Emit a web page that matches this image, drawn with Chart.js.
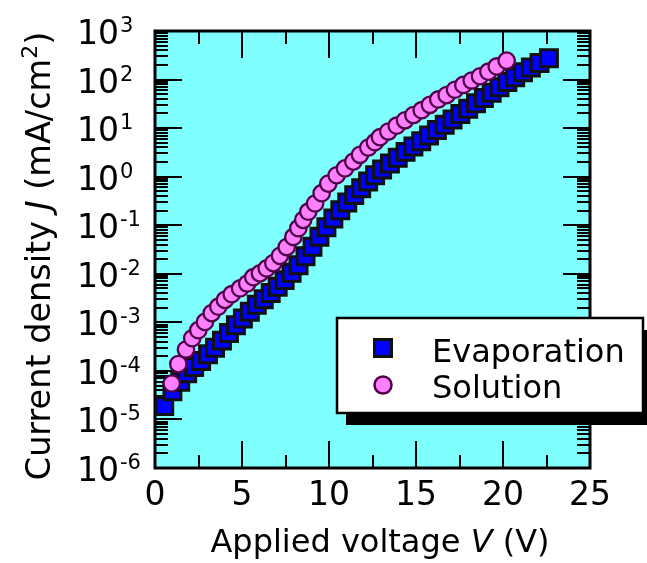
<!DOCTYPE html>
<html>
<head>
<meta charset="utf-8">
<script src="https://cdn.jsdelivr.net/npm/chart.js@4/dist/chart.umd.min.js"></script>
<style>
  html, body { margin: 0; padding: 0; background: #ffffff; }
  canvas { display: block; }
</style>
</head>
<body>
<canvas id="jv" width="647" height="563"></canvas>
<script>
// Current density vs. applied voltage for the two device types
const seriesNames = ['Evaporation', 'Solution'];

const evapV = [0.53, 1.00, 1.45, 1.85, 2.25, 2.65, 3.05, 3.45, 3.85, 4.25,
               4.65, 5.05, 5.45, 5.85, 6.25, 6.65, 7.05, 7.45, 7.85, 8.25,
               8.65, 9.05, 9.45, 9.85, 10.25, 10.65, 11.05, 11.45, 11.85, 12.25,
               12.65, 13.05, 13.50, 13.95, 14.40, 14.85, 15.30, 15.75, 16.20, 16.65,
               17.10, 17.55, 18.00, 18.45, 18.90, 19.35, 19.80, 20.25, 20.70, 21.15,
               21.60, 22.10, 22.64];
const evapJ = [1.9e-5, 3.8e-5, 6.0e-5, 8.9e-5, 1.2e-4, 1.6e-4, 2.2e-4, 3.0e-4, 4.2e-4, 6.0e-4,
               8.7e-4, 1.2e-3, 1.66e-3, 2.3e-3, 3.0e-3, 4.0e-3, 5.4e-3, 7.4e-3, 1.05e-2, 1.5e-2,
               2.3e-2, 3.6e-2, 5.8e-2, 9.1e-2, 0.138, 0.204, 0.295, 0.417, 0.575, 0.794,
               1.07, 1.41, 1.86, 2.45, 3.24, 4.17, 5.37, 7.08, 9.12, 11.7,
               15.1, 19.5, 25.1, 32.4, 41.7, 53.7, 69.2, 89.1, 112, 141,
               178, 219, 275];

const solV = [0.96, 1.34, 1.78, 2.14, 2.49, 2.87, 3.26, 3.64, 4.02, 4.41,
              4.89, 5.30, 5.65, 6.03, 6.42, 6.80, 7.18, 7.57, 7.95, 8.24,
              8.52, 8.81, 9.20, 9.58, 9.96, 10.44, 10.92, 11.40, 11.78, 12.26,
              12.64, 12.93, 13.41, 13.89, 14.37, 14.85, 15.33, 15.80, 16.28, 16.76,
              17.24, 17.72, 18.20, 18.68, 19.16, 19.64, 20.21];
const solJ = [5.5e-5, 1.38e-4, 2.75e-4, 4.7e-4, 6.9e-4, 1.02e-3, 1.55e-3, 2.1e-3, 2.9e-3, 3.8e-3,
              5.0e-3, 6.3e-3, 8.5e-3, 1.02e-2, 1.29e-2, 1.66e-2, 2.34e-2, 3.55e-2, 5.75e-2, 8.7e-2,
              0.129, 0.19, 0.28, 0.457, 0.72, 1.07, 1.48, 2.04, 2.82, 3.98,
              5.13, 6.5, 8.5, 11.2, 14.5, 18.6, 23.4, 30.2, 38.9, 47.9,
              61.7, 77.6, 95.5, 117, 145, 186, 245];

// Axis ticks
const xTickValues = [0, 5, 10, 15, 20, 25];
const xMinorValues = [2.5, 7.5, 12.5, 17.5, 22.5];
const yExponents = [-6, -5, -4, -3, -2, -1, 0, 1, 2, 3];

const FONT = '"DejaVu Sans", "Liberation Sans", sans-serif';
const PLOT_BG = '#80ffff';
const evapStyle = { fill: '#0000ff', stroke: '#111111' };
const solStyle = { fill: '#ff80ff', stroke: '#52004a' };

function toPoints(vs, js) { return vs.map((v, i) => ({ x: v, y: js[i] })); }

// Frame, inward ticks and plot background
const framePlugin = {
  id: 'jvFrame',
  beforeDatasetsDraw(chart) {
    const { ctx, chartArea: a, scales: { x, y } } = chart;
    ctx.save();
    ctx.fillStyle = PLOT_BG;
    ctx.fillRect(a.left, a.top, a.right - a.left, a.bottom - a.top);

    ctx.strokeStyle = '#000';
    ctx.lineWidth = 2;
    ctx.beginPath();
    yExponents.forEach(e => {
      for (let m = 1; m <= 9; m++) {
        const v = m * Math.pow(10, e);
        if (v > y.max * 1.0001) break;
        const py = Math.round(y.getPixelForValue(v));
        const len = m === 1 ? 27 : 13;
        ctx.moveTo(a.left, py); ctx.lineTo(a.left + len, py);
        ctx.moveTo(a.right, py); ctx.lineTo(a.right - len, py);
      }
    });
    xTickValues.forEach(v => {
      const px = Math.round(x.getPixelForValue(v));
      ctx.moveTo(px, a.bottom); ctx.lineTo(px, a.bottom - 27);
      ctx.moveTo(px, a.top); ctx.lineTo(px, a.top + 27);
    });
    xMinorValues.forEach(v => {
      const px = Math.round(x.getPixelForValue(v));
      ctx.moveTo(px, a.bottom); ctx.lineTo(px, a.bottom - 13);
      ctx.moveTo(px, a.top); ctx.lineTo(px, a.top + 13);
    });
    ctx.stroke();

    ctx.lineWidth = 3;
    ctx.strokeRect(a.left, a.top, a.right - a.left, a.bottom - a.top);
    ctx.restore();
  },
  afterDraw(chart) {
    const { ctx, chartArea: a, scales: { x, y } } = chart;
    ctx.save();
    ctx.fillStyle = '#000';

    // x tick labels
    ctx.font = '33px ' + FONT;
    ctx.textAlign = 'center';
    ctx.textBaseline = 'alphabetic';
    xTickValues.forEach(v => {
      ctx.fillText(String(v), x.getPixelForValue(v), a.bottom + 37);
    });

    // y tick labels: 10 with superscript exponent
    ctx.textAlign = 'left';
    yExponents.forEach(e => {
      const py = y.getPixelForValue(Math.pow(10, e));
      ctx.font = '33px ' + FONT;
      ctx.fillText('10', 77, py + 13);
      const w = ctx.measureText('10').width;
      ctx.font = '21px ' + FONT;
      ctx.fillText(String(e), 77 + w + 1, py + 1);
    });

    // x axis title
    const xParts = [
      { t: 'Applied voltage ', f: '32px ' + FONT },
      { t: 'V', f: 'italic 32px ' + FONT },
      { t: ' (V)', f: '32px ' + FONT }
    ];
    let total = 0;
    xParts.forEach(p => { ctx.font = p.f; p.w = ctx.measureText(p.t).width; total += p.w; });
    let cx = 380 - total / 2;
    xParts.forEach(p => { ctx.font = p.f; ctx.fillText(p.t, cx, 552); cx += p.w; });

    // y axis title (rotated)
    const yParts = [
      { t: 'Current density ', f: '33.5px ' + FONT, dy: 0 },
      { t: 'J', f: 'italic 33.5px ' + FONT, dy: 0 },
      { t: ' (mA/cm', f: '33.5px ' + FONT, dy: 0 },
      { t: '2', f: '22px ' + FONT, dy: -13 },
      { t: ')', f: '33.5px ' + FONT, dy: 0 }
    ];
    total = 0;
    yParts.forEach(p => { ctx.font = p.f; p.w = ctx.measureText(p.t).width; total += p.w; });
    ctx.save();
    ctx.translate(50, 256);
    ctx.rotate(-Math.PI / 2);
    cx = -total / 2;
    yParts.forEach(p => { ctx.font = p.f; ctx.fillText(p.t, cx, p.dy); cx += p.w; });
    ctx.restore();

    // legend box with drop shadow
    const bx = 337, by = 318, bw = 306, bh = 95;
    ctx.fillStyle = '#000';
    ctx.fillRect(bx + 9, by + 12, bw, bh);
    ctx.fillStyle = '#fff';
    ctx.fillRect(bx, by, bw, bh);
    ctx.strokeStyle = '#000';
    ctx.lineWidth = 2.5;
    ctx.strokeRect(bx, by, bw, bh);

    // legend markers
    ctx.lineWidth = 3;
    ctx.fillStyle = evapStyle.fill; ctx.strokeStyle = evapStyle.stroke;
    ctx.beginPath(); ctx.rect(383 - 8.5, 348 - 8.5, 17, 17); ctx.fill(); ctx.stroke();
    ctx.lineWidth = 2.5;
    ctx.fillStyle = solStyle.fill; ctx.strokeStyle = solStyle.stroke;
    ctx.beginPath(); ctx.arc(383, 385, 8.5, 0, Math.PI * 2); ctx.fill(); ctx.stroke();

    ctx.fillStyle = '#000';
    ctx.font = '32px ' + FONT;
    ctx.textAlign = 'left';
    ctx.fillText(seriesNames[0], 432, 362);
    ctx.fillText(seriesNames[1], 432, 398);
    ctx.restore();
  }
};

new Chart(document.getElementById('jv'), {
  type: 'scatter',
  data: {
    datasets: [
      {
        label: seriesNames[0],
        data: toPoints(evapV, evapJ),
        pointStyle: 'rect',
        pointRadius: 12,
        pointBorderWidth: 3,
        pointBackgroundColor: evapStyle.fill,
        pointBorderColor: evapStyle.stroke,
        showLine: false,
        order: 1
      },
      {
        label: seriesNames[1],
        data: toPoints(solV, solJ),
        pointStyle: 'circle',
        pointRadius: 8.2,
        pointBorderWidth: 2.3,
        pointBackgroundColor: solStyle.fill,
        pointBorderColor: solStyle.stroke,
        showLine: false,
        order: 0
      }
    ]
  },
  options: {
    responsive: false,
    devicePixelRatio: 1,
    animation: false,
    layout: { padding: { left: 155, right: 57, top: 31, bottom: 95 } },
    plugins: { legend: { display: false }, tooltip: { enabled: false } },
    scales: {
      x: { type: 'linear', min: 0, max: 25, display: false },
      y: { type: 'logarithmic', min: 1e-6, max: 1e3, display: false }
    }
  },
  plugins: [framePlugin]
});
</script>
</body>
</html>
